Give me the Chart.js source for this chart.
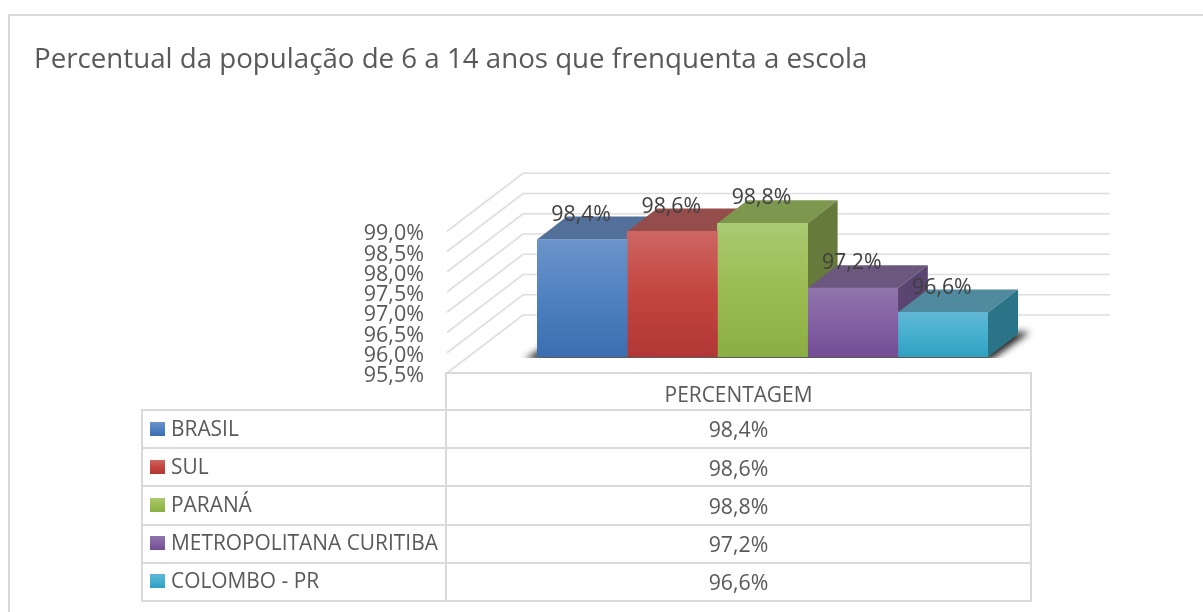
<!DOCTYPE html>
<html><head><meta charset="utf-8">
<script src="https://cdn.jsdelivr.net/npm/chart.js@4"></script>
<style>
html,body{margin:0;padding:0;background:#fff;overflow:hidden}
#wrap{position:relative;width:1203px;height:612px;overflow:hidden}
#frame{position:absolute;left:8px;top:14px;width:1300px;height:700px;border:2px solid #d9d9d9;box-sizing:border-box}
canvas{position:absolute;left:0;top:0}
table{position:absolute;left:141px;top:372px;border-collapse:collapse;table-layout:fixed;font-family:"Open Sans",sans-serif;font-size:20.9px;color:#595959;line-height:1}
td{border:2px solid #d9d9d9;padding:0;height:38.2px;white-space:nowrap;box-sizing:border-box}
td.none{border:none;border-right:2px solid #d9d9d9;border-bottom:2px solid #d9d9d9}
td.n{padding-left:7px;padding-bottom:2px}
td.v{text-align:center}
td.h{padding-top:6px}
i{display:inline-block;width:15px;height:14px;margin-right:6px;vertical-align:0}
</style></head><body>
<div id="wrap">
<div id="frame"></div>
<canvas id="c" width="1203" height="612"></canvas>
<table id="t"><colgroup><col style="width:304px"><col style="width:585px"></colgroup><tbody id="tb"></tbody></table>
</div>
<script>
const titleText = "Percentual da população de 6 a 14 anos que frenquenta a escola";
const categoryLabel = "PERCENTAGEM";
const seriesNames = ["BRASIL","SUL","PARANÁ","METROPOLITANA CURITIBA","COLOMBO - PR"];
const seriesValues = [98.4,98.6,98.8,97.2,96.6];
const frontTop = ["#6b94ca","#cd6663","#aac973","#8f75ac","#61b7d3"];
const frontMid = ["#4f81c1","#c4453f","#9bbc50","#8360a3","#46afd0"];
const frontBottom = ["#3a6eb0","#b13735","#8bae44","#744d94","#30a0c0"];
const topFace = ["#52709a","#954d4c","#7d974f","#6c587f","#4f8a9f"];
const sideFace = ["#3f5e8a","#7c3a38","#667a3b","#5a4470","#2b7386"];
const axisMin = 95.5, axisMax = 99, axisStep = 0.5;

const fmt = v => v.toFixed(1).replace('.',',') + '%';
const DX = 30, DY = 23;
const WALL = {dx:76, up:42, down:16, right:1110, backX:523};

const threeD = {
  id:'threeD',
  beforeDatasetsDraw(chart){
    const c = chart.ctx, y = chart.scales.y, a = chart.chartArea;
    c.save();
    c.strokeStyle = '#dedede'; c.lineWidth = 1.6;
    y.ticks.forEach(t=>{
      const p = y.getPixelForValue(t.value);
      c.beginPath();
      c.moveTo(WALL.backX - WALL.dx, p + WALL.down);
      c.lineTo(WALL.backX, p - WALL.up);
      c.lineTo(WALL.right, p - WALL.up);
      c.stroke();
    });
    // soft floor shadow: only the blurred shadow of an off-canvas shape is visible
    const b = a.bottom, off = 3000;
    c.save();
    c.beginPath(); c.rect(0,0,1203,b+1); c.clip();
    c.shadowColor = 'rgba(0,0,0,0.85)'; c.shadowBlur = 7; c.shadowOffsetX = off;
    c.fillStyle = '#000';
    c.beginPath();
    c.moveTo(a.left-13-off,b+3); c.lineTo(a.right+3-off,b+3);
    c.lineTo(a.right+DX+12-off,b-DY-2); c.lineTo(a.left+DX-off,b-DY-2); c.closePath(); c.fill();
    c.restore();
    // top and side faces
    chart.getSortedVisibleDatasetMetas().forEach((m,i)=>{
      const e = m.data[0], l = e.x - e.width/2, r = e.x + e.width/2, t = e.y;
      c.fillStyle = topFace[i];
      c.beginPath(); c.moveTo(l,t); c.lineTo(l+DX,t-DY); c.lineTo(r+DX,t-DY); c.lineTo(r,t); c.closePath(); c.fill();
      c.fillStyle = sideFace[i];
      c.beginPath(); c.moveTo(r,t); c.lineTo(r+DX,t-DY); c.lineTo(r+DX,b-DY); c.lineTo(r,b); c.closePath(); c.fill();
    });
    c.restore();
  },
  afterDatasetsDraw(chart){
    const c = chart.ctx;
    c.save();
    c.font = '21.3px "Open Sans", sans-serif';
    c.fillStyle = '#404040'; c.textAlign='center'; c.textBaseline='middle';
    chart.getSortedVisibleDatasetMetas().forEach((m,i)=>{
      const e = m.data[0];
      c.fillText(fmt(seriesValues[i]), e.x-1, e.y-25);
    });
    c.restore();
  }
};

new Chart(document.getElementById('c'),{
  type:'bar',
  data:{
    labels:[categoryLabel],
    datasets:seriesNames.map((n,i)=>({
      label:n,
      data:[seriesValues[i]],
      backgroundColor(ctx){
        const ch = ctx.chart; if(!ch.chartArea) return frontMid[i];
        const g = ch.ctx.createLinearGradient(0,ch.scales.y.getPixelForValue(seriesValues[i]),0,ch.chartArea.bottom);
        g.addColorStop(0,frontTop[i]); g.addColorStop(.5,frontMid[i]); g.addColorStop(1,frontBottom[i]);
        return g;
      },
      borderWidth:0,
      barPercentage:1, categoryPercentage:1
    }))
  },
  options:{
    responsive:false, animation:false,
    layout:{padding:{left:34,right:215,top:0,bottom:255}},
    plugins:{
      legend:{display:false}, tooltip:{enabled:false},
      title:{display:true,text:titleText,align:'start',color:'#595959',
        font:{family:'"Open Sans", sans-serif',size:27.7,weight:'normal',lineHeight:1.2},
        padding:{top:43,bottom:139}}
    },
    scales:{
      x:{display:false},
      y:{
        min:axisMin,max:axisMax,
        grid:{display:false,drawTicks:false},border:{display:false},
        afterFit(s){s.width=503},
        ticks:{stepSize:axisStep,autoSkip:false,padding:113,labelOffset:19,color:'#595959',
          font:{family:'"Open Sans", sans-serif',size:21.5},
          callback:v=>fmt(v)}
      }
    }
  },
  plugins:[threeD]
});

const tb = document.getElementById('tb');
let h = '<tr><td class="none" style="height:37px"></td><td class="v h" style="height:37px">'+categoryLabel+'</td></tr>';
seriesNames.forEach((n,i)=>{
  h += '<tr><td class="n"><i style="background:linear-gradient('+frontTop[i]+','+frontMid[i]+' 50%,'+frontBottom[i]+')"></i>'+n+'</td><td class="v" style="font-size:21.3px">'+fmt(seriesValues[i])+'</td></tr>';
});
tb.innerHTML = h;
</script>
</body></html>
